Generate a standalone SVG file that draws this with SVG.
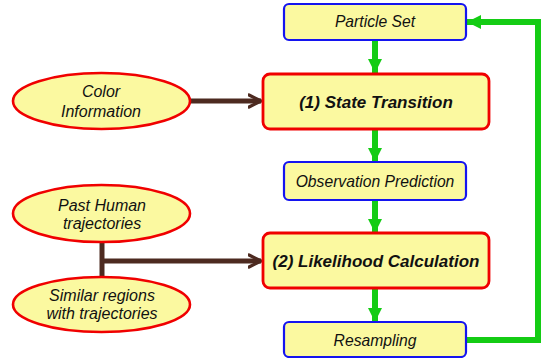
<svg xmlns="http://www.w3.org/2000/svg" width="545" height="358" viewBox="0 0 545 358">
  <style>
    .step { fill: #fbf9a0; stroke: #1414f0; stroke-width: 2.2; }
    .key { fill: #fbf9a0; stroke: #f00000; stroke-width: 2.8; }
    .src { fill: #fbf9a0; stroke: #f00000; stroke-width: 2.6; }
    text { font-family: "Liberation Sans", Arial, sans-serif; fill: #111; text-anchor: middle; font-style: italic; }
    .t { font-size: 15.7px; }
    .e { font-size: 16px; }
    .b { font-size: 17px; font-weight: bold; }
    .flow { stroke: #14cc14; stroke-width: 6; fill: none; }
    .feed { stroke: #4d2a20; stroke-width: 5; fill: none; stroke-linecap: butt; }
  </style>
  <defs>
    <marker id="g" viewBox="0 0 10 10" refX="10" refY="5" markerWidth="2.4" markerHeight="2.4" markerUnits="strokeWidth" orient="auto">
      <path d="M0,0 L10,5 L0,10 Z" fill="#14cc14"/>
    </marker>
    <marker id="br" viewBox="0 0 10 10" refX="9" refY="5" markerWidth="3" markerHeight="3.2" markerUnits="strokeWidth" orient="auto">
      <path d="M1,1 L9,5 L1,9" fill="none" stroke="#4d2a20" stroke-width="2.2" stroke-linecap="round" stroke-linejoin="round"/>
    </marker>
  </defs>

  <g id="connectors">
    <line class="flow" x1="375" y1="40" x2="375" y2="73" marker-end="url(#g)"/>
    <line class="flow" x1="375" y1="129" x2="375" y2="162" marker-end="url(#g)"/>
    <line class="flow" x1="375" y1="200" x2="375" y2="233" marker-end="url(#g)"/>
    <line class="flow" x1="375" y1="288" x2="375" y2="322" marker-end="url(#g)"/>
    <polyline class="flow" points="466,340 538,340 538,22 467,22" marker-end="url(#g)"/>
    <line class="feed" x1="190" y1="101" x2="261" y2="101" marker-end="url(#br)"/>
    <line class="feed" x1="102" y1="242" x2="102" y2="277"/>
    <line class="feed" x1="100" y1="261" x2="261" y2="261" marker-end="url(#br)"/>
  </g>

  <g id="particle-set">
    <rect class="step" x="284" y="4" width="182" height="36" rx="5"/>
    <text class="t" x="375" y="27">Particle Set</text>
  </g>
  <g id="state-transition">
    <rect class="key" x="263" y="74" width="226" height="55" rx="7"/>
    <text class="b" x="376" y="108">(1) State Transition</text>
  </g>
  <g id="observation-prediction">
    <rect class="step" x="284" y="162" width="182" height="38" rx="5"/>
    <text class="t" x="375" y="187">Observation Prediction</text>
  </g>
  <g id="likelihood-calculation">
    <rect class="key" x="263" y="233" width="226" height="55" rx="7"/>
    <text class="b" x="376" y="267">(2) Likelihood Calculation</text>
  </g>
  <g id="resampling">
    <rect class="step" x="284" y="322" width="182" height="35" rx="5"/>
    <text class="t" x="375" y="346">Resampling</text>
  </g>

  <g id="color-information">
    <ellipse class="src" cx="101.5" cy="101" rx="88.5" ry="28"/>
    <text class="e" x="101" y="97">Color</text>
    <text class="e" x="101" y="117">Information</text>
  </g>
  <g id="past-human-trajectories">
    <ellipse class="src" cx="101.5" cy="213.5" rx="88.5" ry="28.5"/>
    <text class="e" x="102" y="211">Past Human</text>
    <text class="e" x="102" y="229">trajectories</text>
  </g>
  <g id="similar-regions">
    <ellipse class="src" cx="101.5" cy="304.5" rx="88.5" ry="27.5"/>
    <text class="e" x="102" y="301">Similar regions</text>
    <text class="e" x="102" y="319">with trajectories</text>
  </g>
</svg>
